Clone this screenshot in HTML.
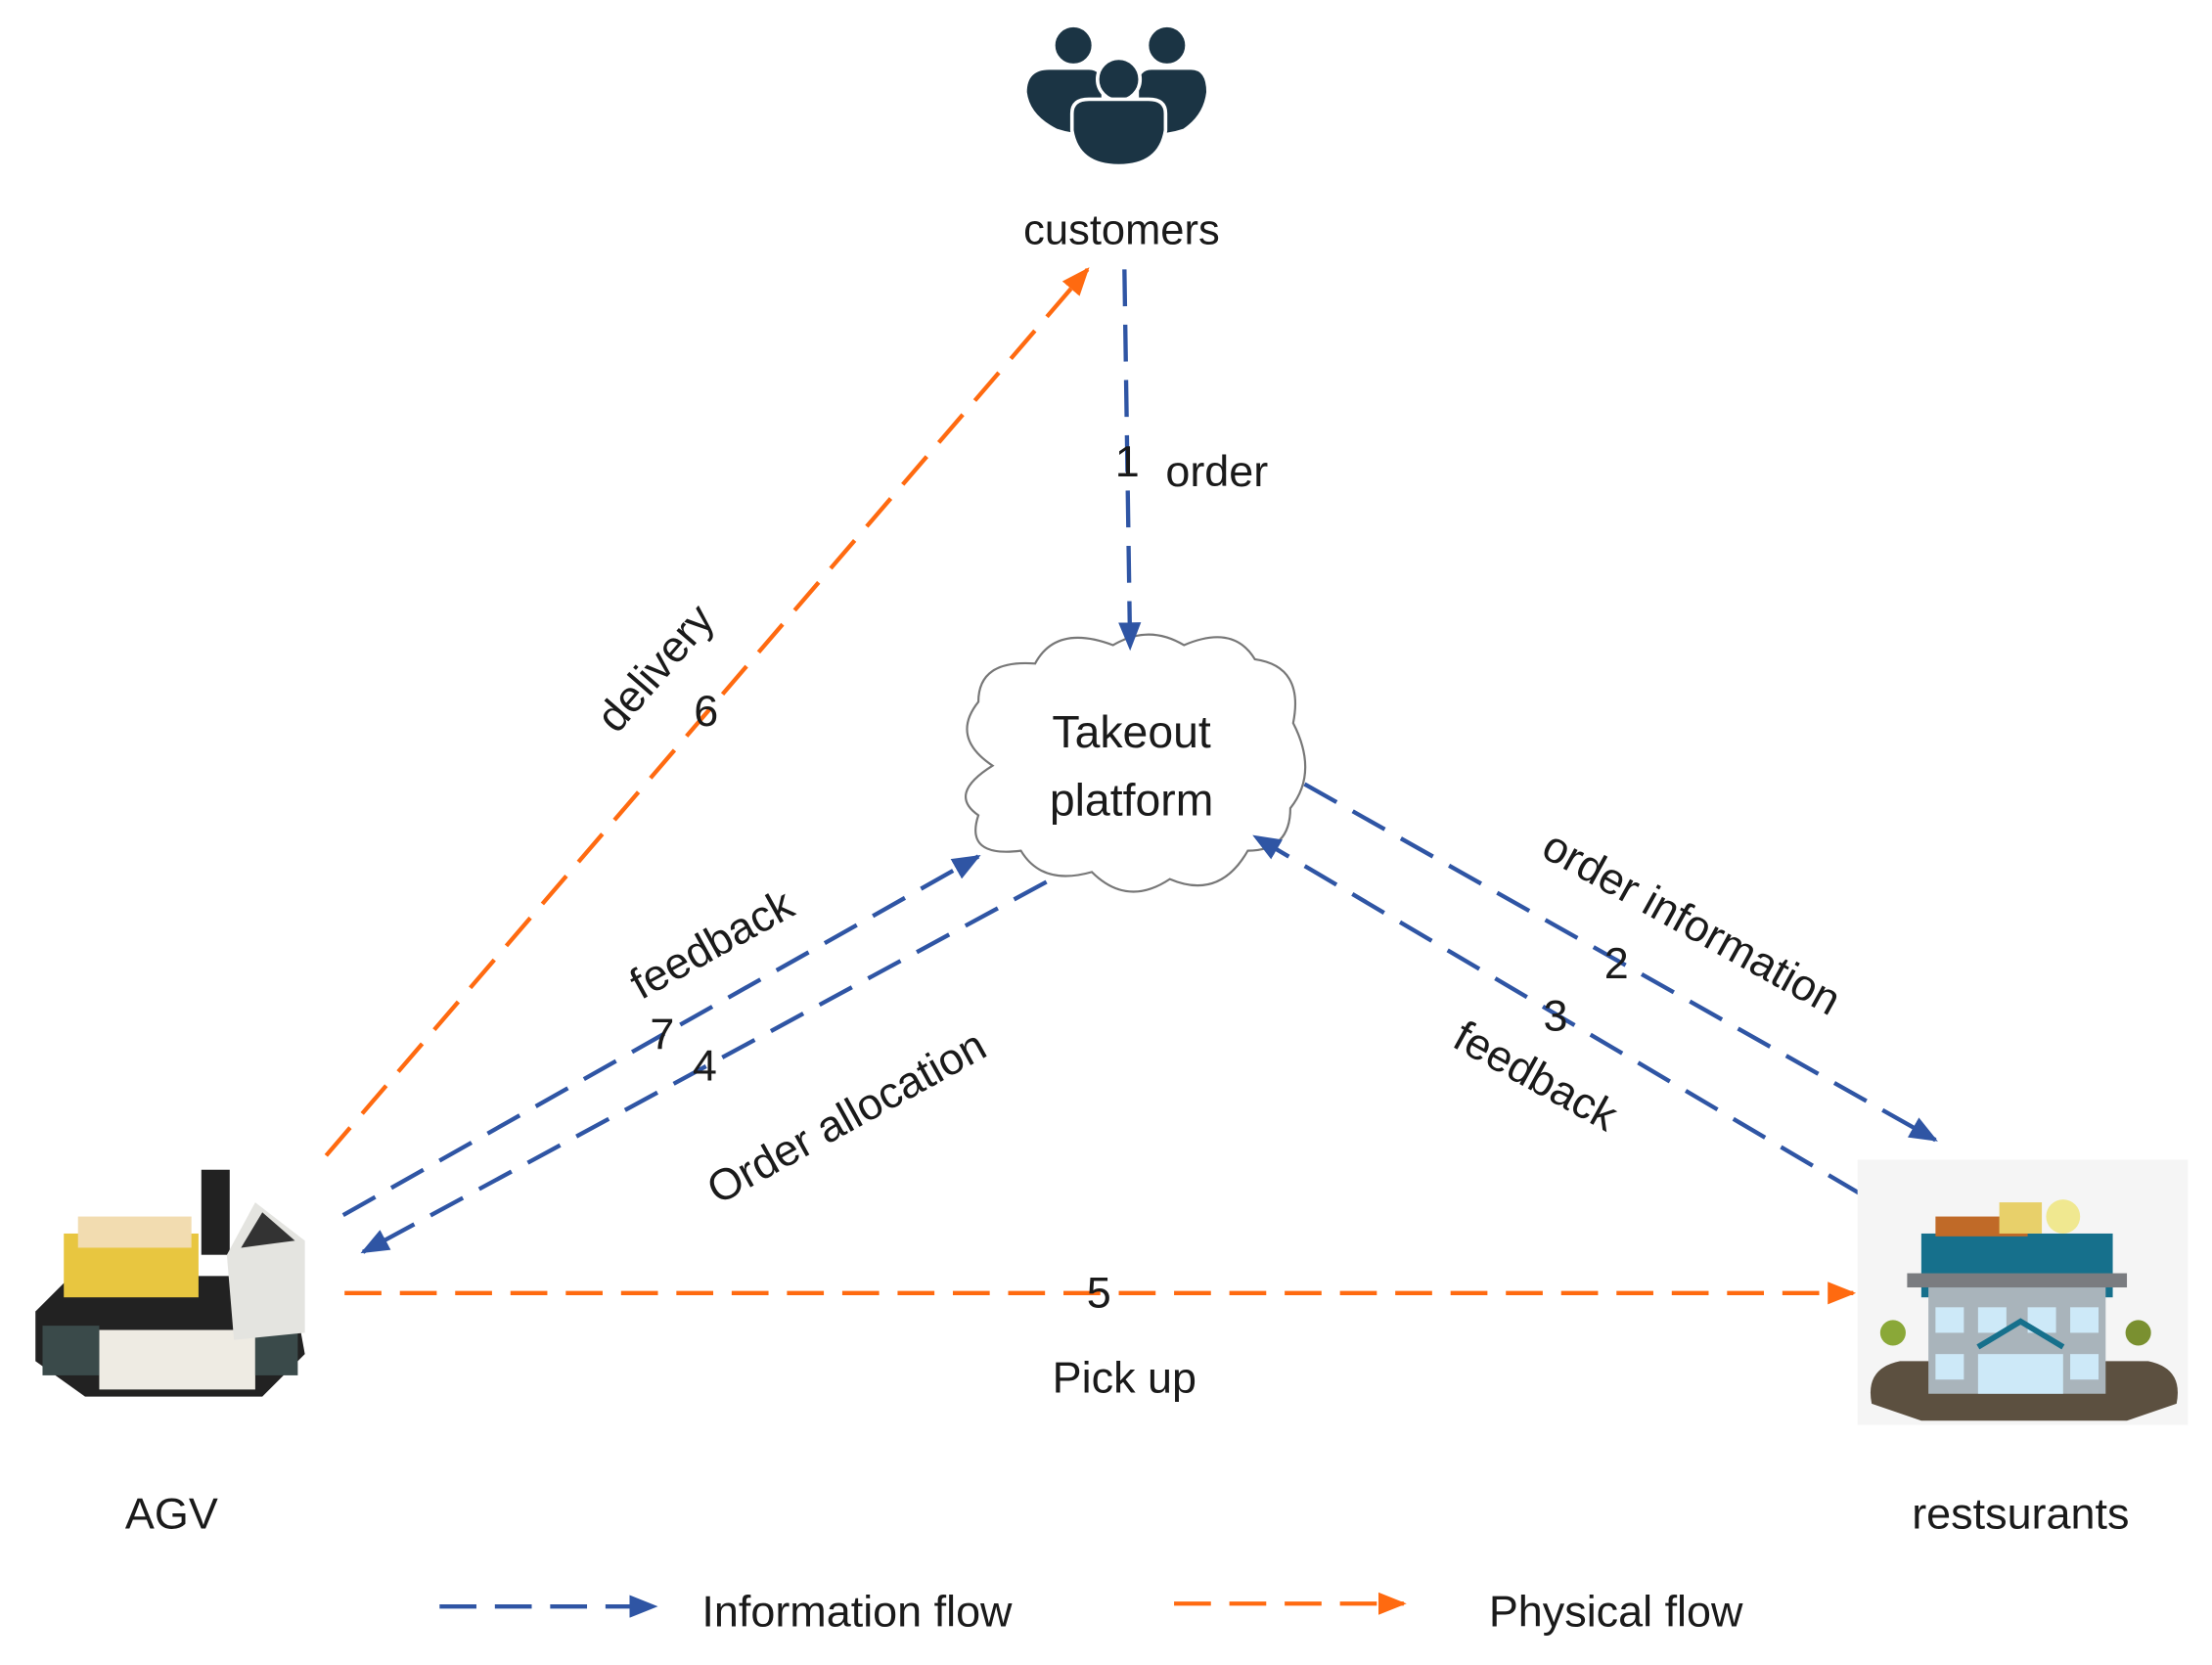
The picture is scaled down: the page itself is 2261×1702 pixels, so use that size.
<!DOCTYPE html>
<html><head><meta charset="utf-8"><style>
html,body{margin:0;padding:0;background:#fff;}
svg{display:block;}
text{font-family:"Liberation Sans",sans-serif;fill:#1a1a1a;}
</style></head><body>
<svg width="2261" height="1702" viewBox="0 0 1560 1174.3" preserveAspectRatio="none" xmlns="http://www.w3.org/2000/svg">
<defs>
<marker id="ab" markerWidth="20" markerHeight="16" refX="18" refY="8" orient="auto" markerUnits="userSpaceOnUse" viewBox="0 0 20 16"><path d="M0,0 L20,8 L0,16 z" fill="#2F55A4"/></marker>
<marker id="ao" markerWidth="20" markerHeight="16" refX="18" refY="8" orient="auto" markerUnits="userSpaceOnUse" viewBox="0 0 20 16"><path d="M0,0 L20,8 L0,16 z" fill="#FF6A10"/></marker>
</defs>
<rect width="1560" height="1175" fill="#fff"/>
<!-- customers icon -->
<g fill="#1b3444" stroke="#fff" stroke-width="2.5">
<circle cx="757" cy="32" r="14"/><circle cx="823" cy="32" r="14"/>
<path d="M723,65 Q723,48 740,48 L768,48 Q778,48 778,60 L778,95 Q760,97 745,92 Q725,82 723,65 z"/>
<path d="M802,60 Q802,48 812,48 L840,48 Q852,48 852,65 Q850,82 835,92 Q820,97 802,95 z"/>
<circle cx="789" cy="56" r="15"/>
<path d="M756,80 Q756,70 768,70 L810,70 Q822,70 822,80 L822,92 Q818,117 789,117 Q760,117 756,92 z"/>
</g>
<text x="791" y="172" font-size="30" text-anchor="middle">customers</text>
<!-- cloud -->
<path d="M700,540 Q670,520 690,495 Q690,465 730,468 Q745,440 785,455 Q810,440 835,455 Q870,440 885,465 Q920,470 912,510 Q930,545 910,570 Q910,600 880,600 Q860,635 825,620 Q795,640 770,615 Q735,625 720,600 Q680,605 690,575 Q668,560 700,540 z" fill="#fff" stroke="#777" stroke-width="1.5"/>
<text x="798" y="527" font-size="32" text-anchor="middle">Takeout</text>
<text x="798" y="575" font-size="32" text-anchor="middle">platform</text>
<!-- lines -->
<g fill="none" stroke-width="3" stroke-dasharray="26,13">
<line x1="793" y1="190" x2="797" y2="457" stroke="#2F55A4" marker-end="url(#ab)"/>
<line x1="230" y1="815" x2="767" y2="190" stroke="#FF6A10" marker-end="url(#ao)"/>
<line x1="242" y1="857" x2="690" y2="604" stroke="#2F55A4" marker-end="url(#ab)"/>
<line x1="738" y1="622" x2="256" y2="883" stroke="#2F55A4" marker-end="url(#ab)"/>
<line x1="920" y1="553" x2="1365" y2="804" stroke="#2F55A4" marker-end="url(#ab)"/>
<line x1="1312" y1="842" x2="885" y2="590" stroke="#2F55A4" marker-end="url(#ab)"/>
<line x1="243" y1="912" x2="1307" y2="912" stroke="#FF6A10" marker-end="url(#ao)"/>
<line x1="310" y1="1133" x2="462" y2="1133" stroke="#2F55A4" marker-end="url(#ab)"/>
<line x1="828" y1="1131" x2="990" y2="1131" stroke="#FF6A10" marker-end="url(#ao)"/>
</g>
<!-- labels -->
<g font-size="31">
<text x="795" y="336" text-anchor="middle">1</text>
<text x="822" y="343">order</text>
<text x="470" y="478" text-anchor="middle" transform="rotate(-49 470 478)">delivery</text>
<text x="498" y="512" text-anchor="middle">6</text>
<text x="507" y="675" text-anchor="middle" transform="rotate(-29 507 675)">feedback</text>
<text x="467" y="740" text-anchor="middle">7</text>
<text x="497" y="762" text-anchor="middle">4</text>
<text x="602" y="797" text-anchor="middle" transform="rotate(-29 602 797)">Order allocation</text>
<text x="1188" y="660" text-anchor="middle" transform="rotate(29 1188 660)">order information</text>
<text x="1140" y="690" text-anchor="middle">2</text>
<text x="1097" y="727" text-anchor="middle">3</text>
<text x="1078" y="768" text-anchor="middle" transform="rotate(29 1078 768)">feedback</text>
<text x="775" y="922" text-anchor="middle">5</text>
<text x="793" y="982" text-anchor="middle">Pick up</text>
<text x="121" y="1078" text-anchor="middle">AGV</text>
<text x="1425" y="1078" text-anchor="middle">restsurants</text>
<text x="495" y="1147">Information flow</text>
<text x="1050" y="1147">Physical flow</text>
</g>
<!-- AGV -->
<g>
<path d="M25,925 L50,900 L205,900 L215,955 L185,985 L60,985 L25,960 z" fill="#222"/>
<rect x="70" y="938" width="110" height="42" fill="#eeebe3"/>
<rect x="30" y="935" width="40" height="35" fill="#3a4a4a"/>
<rect x="180" y="935" width="30" height="35" fill="#3a4a4a"/>
<rect x="45" y="870" width="95" height="45" fill="#e8c640"/>
<rect x="55" y="858" width="80" height="22" fill="#f2dcb0"/>
<rect x="142" y="825" width="20" height="60" fill="#222"/>
<path d="M160,885 L180,848 L215,875 L215,940 L165,945 z" fill="#e4e4e0"/>
<path d="M170,880 L185,855 L208,875 z" fill="#333"/>
</g>
<!-- restaurant -->
<g>
<rect x="1310" y="818" width="233" height="187" fill="#f5f5f5"/>
<path d="M1320,990 Q1315,965 1340,960 L1515,960 Q1540,965 1535,990 L1500,1002 L1355,1002 z" fill="#5c5040"/>
<rect x="1355" y="870" width="135" height="45" fill="#16708c"/>
<rect x="1345" y="898" width="155" height="10" fill="#7a7c80"/>
<rect x="1360" y="908" width="125" height="75" fill="#a9b4bb"/>
<g fill="#cde9f8"><rect x="1365" y="922" width="20" height="18"/><rect x="1395" y="922" width="20" height="18"/><rect x="1430" y="922" width="20" height="18"/><rect x="1460" y="922" width="20" height="18"/><rect x="1365" y="955" width="20" height="18"/><rect x="1460" y="955" width="20" height="18"/><rect x="1395" y="955" width="60" height="28"/></g>
<path d="M1395,950 L1425,932 L1455,950" fill="none" stroke="#16708c" stroke-width="4"/>
<rect x="1365" y="858" width="65" height="14" fill="#c06a28"/>
<rect x="1410" y="848" width="30" height="22" fill="#e8d06a"/>
<circle cx="1455" cy="858" r="12" fill="#f0e890"/>
<circle cx="1335" cy="940" r="9" fill="#8aa838"/><circle cx="1508" cy="940" r="9" fill="#7a9030"/>
</g>
</svg>
</body></html>
